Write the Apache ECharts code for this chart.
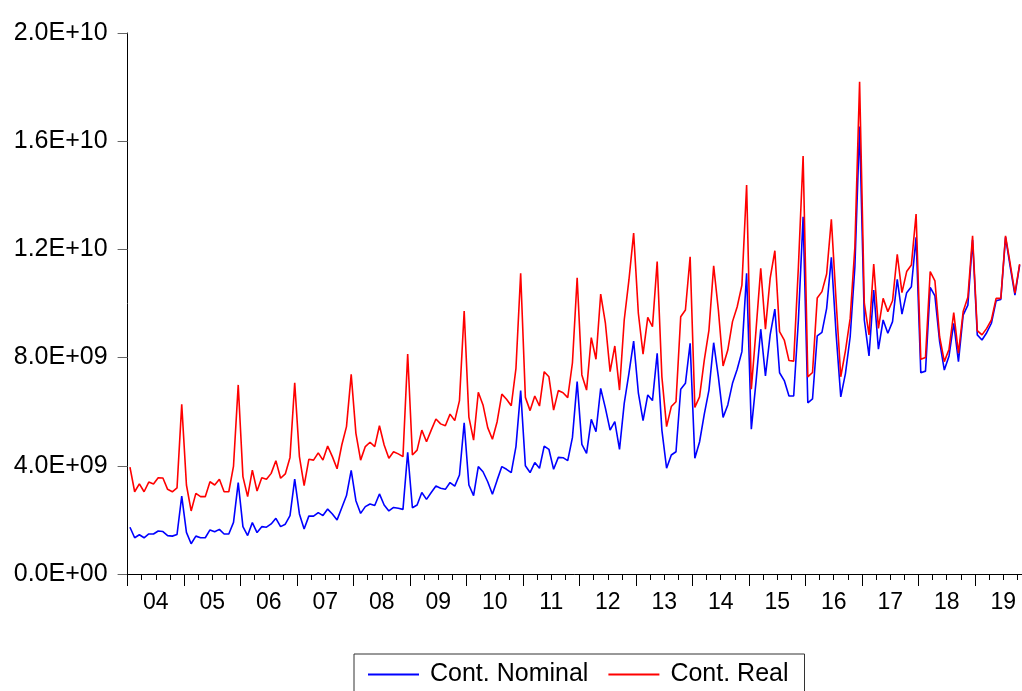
<!DOCTYPE html>
<html>
<head>
<meta charset="utf-8">
<script src="https://cdn.jsdelivr.net/npm/echarts@6/dist/echarts.min.js"></script>
<style>
html,body{margin:0;padding:0;background:#fff;}
#chart{width:1022px;height:691px;}
</style>
</head>
<body>
<div id="chart"></div>
<script>
// Year labels (two-digit) and months; data runs Jan 2004 - Oct 2019 (monthly)
const yearLabels = ['04','05','06','07','08','09','10','11','12','13','14','15','16','17','18','19'];
const monthLabels = ['01','02','03','04','05','06','07','08','09','10','11','12'];
const lastMonthIndex2019 = 9; // October 2019

// Values in units of 1E+09
const contNominal = [
  1.73,1.34,1.45,1.34,1.48,1.48,1.59,1.57,1.42,1.40,1.46,2.88,
  1.54,1.12,1.40,1.34,1.34,1.63,1.56,1.65,1.48,1.48,1.91,3.38,
  1.75,1.42,1.90,1.53,1.75,1.73,1.85,2.06,1.75,1.84,2.16,3.51,
  2.22,1.66,2.14,2.14,2.27,2.16,2.40,2.22,2.00,2.45,2.90,3.83,
  2.71,2.24,2.49,2.59,2.53,2.96,2.55,2.33,2.46,2.43,2.39,4.50,
  2.45,2.55,3.01,2.76,3.01,3.25,3.17,3.13,3.38,3.25,3.66,5.59,
  3.29,2.90,3.97,3.78,3.41,2.95,3.47,3.97,3.87,3.75,4.71,6.78,
  4.00,3.75,4.12,3.91,4.73,4.61,3.87,4.31,4.30,4.19,5.05,7.11,
  4.79,4.46,5.72,5.26,6.86,6.13,5.32,5.63,4.61,6.31,7.42,8.61,
  6.70,5.67,6.62,6.41,8.16,5.32,3.91,4.40,4.52,6.83,7.05,8.53,
  4.28,4.88,5.90,6.80,8.55,7.29,5.79,6.25,7.05,7.57,8.22,11.12,
  5.35,7.11,9.05,7.32,8.84,9.79,7.44,7.15,6.58,6.58,9.39,13.21,
  6.33,6.47,8.80,8.93,9.82,11.71,8.90,6.55,7.42,8.77,11.36,16.54,
  9.39,8.06,10.50,8.31,9.39,8.90,9.33,10.89,9.61,10.40,10.62,12.45,
  7.44,7.50,10.60,10.28,8.59,7.54,8.06,9.27,7.85,9.57,9.94,12.35,
  8.84,8.65,8.92,9.27,10.10,10.15,12.45,11.35,10.31,11.42
];
const contReal = [
  3.95,3.04,3.33,3.04,3.40,3.33,3.56,3.55,3.13,3.04,3.18,6.27,
  3.29,2.33,2.98,2.86,2.86,3.41,3.29,3.50,3.04,3.04,3.99,6.99,
  3.60,2.86,3.84,3.07,3.56,3.50,3.72,4.19,3.54,3.70,4.31,7.07,
  4.34,3.27,4.24,4.21,4.48,4.21,4.73,4.34,3.89,4.77,5.45,7.38,
  5.20,4.21,4.71,4.87,4.71,5.48,4.77,4.28,4.52,4.44,4.34,8.13,
  4.40,4.58,5.32,4.89,5.32,5.73,5.55,5.48,5.91,5.67,6.41,9.72,
  5.80,4.95,6.72,6.25,5.41,4.98,5.63,6.65,6.46,6.22,7.60,11.12,
  6.53,6.04,6.58,6.21,7.48,7.29,6.06,6.78,6.70,6.52,7.81,10.95,
  7.36,6.80,8.74,7.94,10.35,9.27,7.48,8.43,6.80,9.39,10.87,12.60,
  9.64,8.13,9.49,9.14,11.55,7.29,5.45,6.19,6.37,9.51,9.76,11.73,
  6.16,6.55,7.90,9.02,11.39,9.76,7.69,8.28,9.33,9.88,10.68,14.38,
  6.83,9.02,11.30,9.05,10.93,11.95,8.96,8.65,7.89,7.87,11.36,15.45,
  7.29,7.45,10.20,10.44,11.09,13.11,10.13,7.29,8.26,9.45,12.10,18.20,
  10.01,8.84,11.46,9.08,10.19,9.70,10.10,11.82,10.40,11.18,11.42,13.31,
  7.94,8.00,11.18,10.84,8.77,7.85,8.31,9.66,8.16,9.70,10.23,12.50,
  9.00,8.84,9.08,9.39,10.19,10.19,12.50,11.46,10.38,11.46
];
const seriesNames = ['Cont. Nominal', 'Cont. Real'];
const yTicks = [0, 4, 8, 12, 16, 20];

// Build monthly categories "YY-MM"
const categories = [];
yearLabels.forEach((y, yi) => {
  monthLabels.forEach((m, mi) => {
    if (yi === yearLabels.length - 1 && mi > lastMonthIndex2019) return;
    categories.push(y + '-' + m);
  });
});

function fmtE(v) {
  const val = v * 1e9;
  if (val === 0) return '0.0E+00';
  let e = Math.floor(Math.log10(val) + 1e-9);
  let m = val / Math.pow(10, e);
  const s = String(Math.abs(e)).padStart(2, '0');
  return m.toFixed(1) + 'E' + (e < 0 ? '-' : '+') + s;
}

const font = 'Liberation Sans, Arial, Helvetica, sans-serif';
const chart = echarts.init(document.getElementById('chart'), null, {renderer: 'canvas'});
chart.setOption({
  animation: false,
  backgroundColor: '#ffffff',
  grid: {left: 127.6, top: 33, width: 896.4, height: 541, containLabel: false},
  legend: {
    left: 354, top: 654,
    padding: [8, 16, 20, 14],
    borderColor: '#333', borderWidth: 1,
    itemWidth: 51, itemHeight: 2, itemGap: 20,
    icon: 'rect',
    textStyle: {fontFamily: font, fontSize: 25, color: '#000', padding: [0, 0, 0, 6]},
    data: seriesNames
  },
  xAxis: [{
    type: 'category', data: categories, boundaryGap: true,
    axisLine: {show: true, lineStyle: {color: '#000', width: 1}},
    axisTick: {show: true, length: 12, lineStyle: {color: '#000'},
      interval: (i) => i % 12 === 0},
    axisLabel: {show: true, interval: (i) => i % 12 === 6,
      formatter: (v) => v.slice(0, 2),
      fontFamily: font, fontSize: 23, color: '#000', margin: 17,
      padding: [0, 4.7, 0, 0]},
    splitLine: {show: false}
  }, {
    type: 'category', data: categories, boundaryGap: true, position: 'bottom',
    axisLine: {show: false},
    axisTick: {show: true, length: 6, lineStyle: {color: '#000'},
      interval: (i) => i % 3 === 0},
    axisLabel: {show: false},
    splitLine: {show: false}
  }],
  yAxis: {
    type: 'value', min: yTicks[0], max: yTicks[yTicks.length - 1], interval: 4,
    axisLine: {show: true, lineStyle: {color: '#000', width: 1}},
    axisTick: {show: true, length: 10, lineStyle: {color: '#666'}},
    axisLabel: {formatter: fmtE, fontFamily: font, fontSize: 25, color: '#000', margin: 20},
    splitLine: {show: false}
  },
  series: [{
    name: seriesNames[0], type: 'line', data: contNominal, xAxisIndex: 0,
    symbol: 'none', lineStyle: {color: '#0000ff', width: 1.6}, itemStyle: {color: '#0000ff'}
  }, {
    name: seriesNames[1], type: 'line', data: contReal, xAxisIndex: 0,
    symbol: 'none', lineStyle: {color: '#ff0000', width: 1.6}, itemStyle: {color: '#ff0000'}
  }]
});
</script>
</body>
</html>
